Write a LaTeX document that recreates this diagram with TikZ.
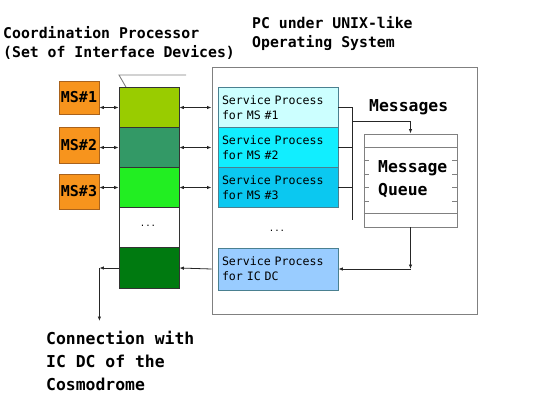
\documentclass[tikz,border=0pt]{standalone}
\usepackage{fontspec}
\newfontfamily\mono[WordSpace={1,0,0}]{DejaVu Sans Mono}
\usetikzlibrary{arrows.meta}
\definecolor{msorange}{HTML}{F7941D}
\definecolor{msborder}{HTML}{A9621C}
\definecolor{cA}{HTML}{99CC00}
\definecolor{cB}{HTML}{339966}
\definecolor{cC}{HTML}{22EE22}
\definecolor{cE}{HTML}{007A10}
\definecolor{spA}{HTML}{CCFFFF}
\definecolor{spB}{HTML}{11EEFF}
\definecolor{spC}{HTML}{0BC8F0}
\definecolor{spD}{HTML}{99CCFF}
\definecolor{spborder}{HTML}{4A8090}
\definecolor{framegray}{HTML}{808080}
\tikzset{
  tip/.tip={Latex[length=4.5pt,width=3.5pt]},
  conn/.style={draw=black!85,line width=0.8pt},
  msbox/.style={draw=msborder,fill=msorange,line width=0.8pt,minimum width=40pt,inner sep=0pt,font=\mono\bfseries\fontsize{15}{18}\selectfont},
  colbox/.style={draw=black!80,line width=0.8pt,minimum width=60pt,minimum height=40pt,inner sep=0pt},
  spbox/.style={draw=spborder,line width=0.8pt,minimum width=120pt,minimum height=40pt,text width=112pt,inner xsep=4pt,inner ysep=0pt,align=left,font=\mono\fontsize{11.6}{15}\selectfont},
  bigtext/.style={anchor=base west,inner sep=0pt,align=left,font=\mono\bfseries\fontsize{14.8}{19}\selectfont},
  hugetext/.style={anchor=base west,inner sep=0pt,align=left,font=\mono\bfseries\fontsize{16.4}{23}\selectfont},
  dotstext/.style={inner sep=0pt,font=\mono\fontsize{9}{10}\selectfont}
}
\begin{document}
\begin{tikzpicture}[x=1pt,y=-1pt]
\useasboundingbox (0,0) rectangle (536,410);
% titles (base anchor = last line)
\node[bigtext] (cptitle) at (3,57) {Coordination Processor\\(Set of Interface Devices)};
\node[bigtext] (pctitle) at (252,47) {PC under UNIX-like\\Operating System};
% PC frame
\node[draw=framegray,line width=0.9pt,minimum width=265pt,minimum height=247pt,inner sep=0pt] (pc) at (344.5,190.5) {};
% callout line
\draw[framegray,line width=0.9pt] (186,75) -- (119,75) -- (138,108);
% MS boxes
\node[msbox,minimum height=33pt] (ms1) at (79,97.5) {MS\#1};
\node[msbox,minimum height=36pt] (ms2) at (79,145) {MS\#2};
\node[msbox,minimum height=35pt] (ms3) at (79,191.5) {MS\#3};
% interface device column
\node[colbox,fill=cA] (c1) at (149,107.5) {};
\node[colbox,fill=cB] (c2) at (149,147.5) {};
\node[colbox,fill=cC] (c3) at (149,187.5) {};
\node[colbox,fill=white] (c4) at (149,227.5) {};
\node[colbox,fill=cE,minimum height=41pt] (c5) at (149,268) {};
\node[dotstext] (dots1) at (148,226) {...};
% service processes
\node[spbox,fill=spA] (sp1) at (278,107.5) {Service Process\\for MS \#1};
\node[spbox,fill=spB] (sp2) at (278,147.5) {Service Process\\for MS \#2};
\node[spbox,fill=spC] (sp3) at (278,187.5) {Service Process\\for MS \#3};
\node[spbox,fill=spD,minimum height=42pt] (spic) at (278,269) {Service Process\\for IC DC};
\node[dotstext] (dots2) at (277,231) {...};
% message queue
\node[draw=framegray,line width=0.9pt,minimum width=93pt,minimum height=93pt,inner sep=0pt] (q) at (410.5,180.5) {};
\draw[framegray,line width=0.9pt] (q.west |- 0,147) -- (q.east |- 0,147);
\draw[framegray,line width=0.9pt] (q.west |- 0,213) -- (q.east |- 0,213);
\foreach \yy in {160,174,187,201}{
  \draw[framegray,line width=0.8pt] (q.west |- 0,\yy) -- ++(5,0);
  \draw[framegray,line width=0.8pt] (q.east |- 0,\yy) -- ++(-5,0);
}
\node[hugetext] (qtext) at (378,195) {Message\\Queue};
\node[hugetext] (msgs) at (369,111) {Messages};
% MS <-> column
\draw[conn,{tip}-{tip}] (c1.west -| ms1.east) -- (c1.west);
\draw[conn,{tip}-{tip}] (c2.west -| ms2.east) -- (c2.west);
\draw[conn,{tip}-{tip}] (c3.west -| ms3.east) -- (c3.west);
% column <-> PC
\draw[conn,{tip}-{tip}] (c1.east) -- (c1.east -| pc.west);
\draw[conn,{tip}-{tip}] (c2.east) -- (c2.east -| pc.west);
\draw[conn,{tip}-{tip}] (c3.east) -- (c3.east -| pc.west);
% bus to queue
\coordinate (bustop) at (352,107.5);
\coordinate (busbot) at (352,220);
\coordinate (busjoin) at (352,121);
\draw[conn] (sp1.east) -- (bustop) -- (busbot);
\draw[conn] (sp2.east) -- (sp2.east -| bustop);
\draw[conn] (sp3.east) -- (sp3.east -| bustop);
\draw[conn,-{tip}] (busjoin) -- (busjoin -| q.north) -- (q.north);
% queue to IC DC service
\coordinate (qcorner) at (q.south |- spic.east);
\draw[conn,-{tip}] (q.south) -- (qcorner);
\draw[conn,-{tip}] (qcorner) -- (spic.east);
\draw[conn,-{tip}] (spic.west -| pc.west) -- (c5.east);
% connection to cosmodrome
\coordinate (outcorner) at (c5.west -| ms1.east);
\coordinate (outend) at (ms1.east |- 0,321);
\draw[conn,-{tip}] (c5.west) -- (outcorner);
\draw[conn,-{tip}] (outcorner) -- (outend);
\node[hugetext] (conn) at (46,390) {Connection with\\IC DC of the\\Cosmodrome};
\end{tikzpicture}
\end{document}
